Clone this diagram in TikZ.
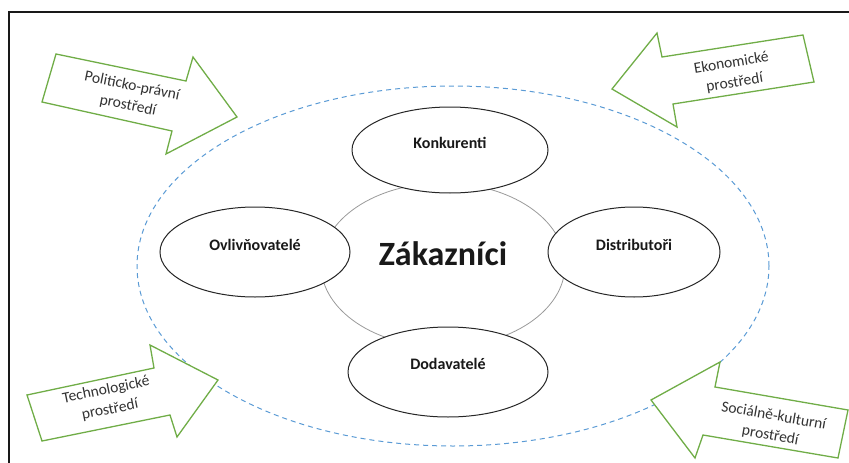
\documentclass[tikz,border=0pt]{standalone}
\usepackage{fontspec}
\setmainfont{Carlito}
\usetikzlibrary{shapes.geometric}
\definecolor{arrgreen}{RGB}{112,173,71}
\definecolor{dashblue}{RGB}{91,155,213}
\begin{document}
\begin{tikzpicture}[x=1pt,y=-1pt,
  actor/.style={ellipse, draw=black!85, line width=1pt, fill=white, inner sep=0pt},
  actorlabel/.style={font=\bfseries\fontsize{16}{19}\selectfont, text=black!90},
  envarrow/.style={draw=arrgreen, line width=1.3pt, fill=white, line join=miter},
  envtext/.style={font=\fontsize{15.5}{20}\selectfont, align=center, text=black!80, inner sep=1pt},
  frameline/.style={draw=black!90, line width=1.8pt}]
\useasboundingbox (0,0) rectangle (849,463);
% frame (top and left only)
\coordinate (ftr) at (849,12);
\coordinate (ftl) at (9,12);
\coordinate (fbl) at (9,463);
\draw[frameline] (ftr) -- (ftl) -- (fbl);
% environment dashed ellipse
\node[ellipse, draw=dashblue, line width=1pt, dash pattern=on 5pt off 4pt,
      minimum width=632pt, minimum height=360pt, inner sep=0pt] (env) at (453,266) {};
% customers circle
\node[ellipse, draw=black!40, line width=0.8pt, minimum width=244pt, minimum height=164pt, inner sep=0pt] (zak) at (443,265) {};
\node[font=\bfseries\fontsize{34}{38}\selectfont, text=black!90] (zaktext) at (443,254) {Zákazníci};
% actors
\node[actor, minimum width=196pt, minimum height=86pt] (konk) at (450,150) {};
\node[actorlabel] (konkt) at ([yshift=7pt]konk.center) {Konkurenti};
\node[actor, minimum width=190pt, minimum height=90pt] (ovl) at (255,252) {};
\node[actorlabel] (ovlt) at ([yshift=7pt]ovl.center) {Ovlivňovatelé};
\node[actor, minimum width=172pt, minimum height=90pt] (dis) at (634,252) {};
\node[actorlabel] (dist) at ([yshift=7pt]dis.center) {Distributoři};
\node[actor, minimum width=200pt, minimum height=90pt] (dod) at (448,372) {};
\node[actorlabel] (dodt) at ([yshift=8pt]dod.center) {Dodavatelé};
% environment arrows
\draw[envarrow] (56,54) -- (186,81) -- (193,57) -- (237,117) -- (166,154) -- (172,131) -- (42,102) -- cycle;
\node[envtext, rotate=-11.5] (pol) at (130,96) {Politicko-právní\\prostředí};
\draw[envarrow] (612,89) -- (657,33) -- (662,57) -- (803,35) -- (814,82) -- (673,104) -- (677,127) -- cycle;
\node[envtext, rotate=9.5] (eko) at (733,73) {Ekonomické\\prostředí};
\draw[envarrow] (27,395) -- (154,368) -- (150,345) -- (218,380) -- (177,437) -- (170,415) -- (42,441) -- cycle;
\node[envtext, rotate=11.5] (tech) at (108,400) {Technologické\\prostředí};
\draw[envarrow] (651,400) -- (720,362) -- (715,387) -- (848,410) -- (838,458) -- (703,435) -- (695,458) -- cycle;
\node[envtext, rotate=-10] (soc) at (772,426) {Sociálně-kulturní\\prostředí};
\end{tikzpicture}
\end{document}
